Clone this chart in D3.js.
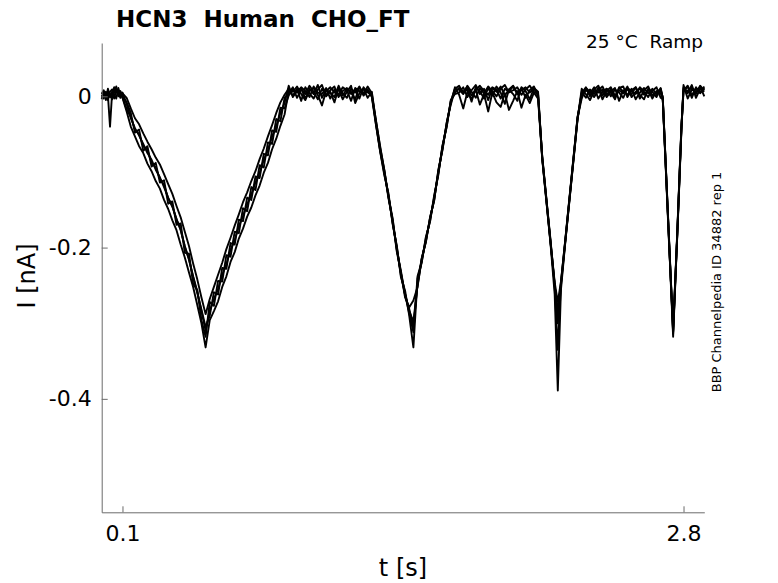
<!DOCTYPE html>
<html>
<head>
<meta charset="utf-8">
<script src="https://cdn.jsdelivr.net/npm/d3@7"></script>
<style>
  body { margin: 0; background: #fff; }
  text { font-family: "DejaVu Sans", sans-serif; fill: #000; white-space: pre; }
</style>
</head>
<body>
<svg id="chart" width="778" height="583"></svg>
<script>
// sample times (s), shared by all sweeps
const tGrid = [
  0, 0.01, 0.02, 0.03, 0.04, 0.05, 0.06, 0.07, 0.08, 0.09, 0.10,
  0.12, 0.14, 0.16, 0.18, 0.20, 0.22, 0.24, 0.26, 0.28, 0.30, 0.32, 0.34, 0.36, 0.38, 0.40, 0.42, 0.44, 0.46, 0.48, 0.50,
  0.52, 0.54, 0.56, 0.58, 0.60, 0.62, 0.64, 0.66, 0.68, 0.70, 0.72, 0.74, 0.76, 0.78, 0.80, 0.82, 0.84, 0.86, 0.88,
  0.90, 0.92, 0.94, 0.96, 0.98, 1.00, 1.02, 1.04, 1.06, 1.08, 1.10, 1.12, 1.14, 1.16, 1.18, 1.20, 1.22, 1.24, 1.26, 1.28, 1.30,
  1.32, 1.34, 1.36, 1.38, 1.40, 1.42, 1.44, 1.46, 1.48, 1.50,
  1.52, 1.54, 1.56, 1.58, 1.60, 1.62, 1.64, 1.66, 1.68, 1.70,
  1.72, 1.74, 1.76, 1.78, 1.80, 1.82, 1.84, 1.86, 1.88, 1.90, 1.92, 1.94, 1.96, 1.98, 2.00, 2.02, 2.04, 2.06, 2.08, 2.10,
  2.12, 2.14, 2.16, 2.18, 2.195, 2.21, 2.23, 2.25, 2.27, 2.29,
  2.31, 2.33, 2.35, 2.37, 2.39, 2.41, 2.43, 2.45, 2.47, 2.49, 2.51, 2.53, 2.55, 2.57, 2.59, 2.61, 2.63, 2.65, 2.67, 2.69,
  2.70, 2.71, 2.73, 2.75, 2.77, 2.79,
  2.80, 2.82, 2.84, 2.86, 2.88, 2.90
];

// current of each sweep, in pA
const sweep1 = [
  2, -3, 6, 1, -40, 4, 12, 5, 8, 3, 0,
  -8, -22, -48, -44, -72, -66, -93, -88, -114, -111, -142, -139, -170, -168, -207, -208, -248, -256, -296, -318,
  -272, -277, -244, -245, -210, -212, -179, -181, -148, -152, -120, -124, -91, -94, -61, -63, -30, -33, -2,
  4, 12, -2, 9, 3, 14, 6, -4, 10, 2, 8, 13, -1, 7, 11, 3, 9, -3, 12, 5, 2,
  -32, -68, -97, -133, -161, -203, -231, -263, -281, -305,
  -248, -214, -193, -160, -138, -97, -71, -35, -11, 9,
  9, 3, 14, 6, -2, 11, 4, 13, 7, 0, 10, 15, 5, 8, 12, 2, 9, 14, 6, 3,
  -83, -139, -195, -262, -389, -256, -196, -141, -86, -31,
  6, -2, 9, 3, 11, -4, 7, 12, 1, 8, 4, 13, -1, 6, 10, 2, 9, -3, 7, 4,
  -3, -65, -190, -318, -182, -42,
  12, 4, 15, -2, 10, 6
];
const sweep2 = [
  -2, 4, -1, 7, 3, -4, 8, 10, 2, 6, -2,
  -20, -40, -53, -66, -75, -89, -99, -112, -122, -137, -149, -164, -177, -196, -213, -233, -252, -276, -300, -332,
  -296, -284, -271, -252, -238, -219, -206, -188, -175, -159, -147, -131, -118, -101, -88, -70, -56, -39, -24,
  8, 1, 10, -6, 12, 4, -3, 9, 15, 0, 6, -8, 11, 4, -2, 10, 5, 13, 1, 8, -1,
  -38, -73, -104, -128, -169, -197, -239, -257, -290, -332,
  -241, -220, -186, -166, -131, -104, -65, -41, -5, 3,
  5, 12, -1, 8, 15, 3, 10, -5, 11, 6, 13, 1, 9, 14, 4, 11, -2, 8, 13, 0,
  -79, -135, -190, -251, -335, -247, -192, -137, -82, -27,
  1, 8, 4, 12, -3, 6, 10, 0, 9, 5, -2, 11, 7, 3, 12, 6, -1, 10, 3, 8,
  -1, -62, -186, -310, -178, -38,
  8, 14, 1, 11, 5, 13
];
const sweep3 = [
  5, 0, 3, -5, 6, 9, 2, -3, 11, 1, 4,
  -2, -16, -29, -37, -49, -60, -70, -81, -90, -103, -116, -129, -145, -160, -179, -198, -221, -242, -266, -288,
  -268, -252, -236, -220, -202, -187, -171, -156, -140, -127, -112, -99, -83, -69, -53, -38, -22, -8, 2,
  10, 6, 13, 3, -5, 8, 11, 2, -12, 7, 12, 5, 9, -4, 6, 14, -9, 4, 10, -2, 6,
  -33, -66, -98, -135, -163, -205, -233, -266, -279, -270,
  -252, -215, -192, -161, -137, -99, -70, -36, -9, 12,
  2, -16, 6, -4, 9, -11, 3, -20, 5, -8, -14, 4, -18, -6, 7, -15, 2, -9, 5, -3,
  -82, -138, -194, -248, -300, -251, -195, -140, -85, -30,
  10, 3, -5, 7, 5, 9, -1, 6, 11, -6, 8, 2, 10, -4, 5, 11, 4, 7, 12, -2,
  -4, -67, -193, -305, -184, -44,
  15, -3, 9, 6, 13, 0
];
const sweep4 = [
  -4, 6, -2, 4, -1, 2, 5, 13, 0, 7, -1,
  -17, -27, -44, -50, -66, -71, -88, -94, -109, -117, -135, -145, -163, -176, -199, -215, -239, -260, -282, -305,
  -290, -259, -262, -227, -228, -194, -196, -163, -165, -134, -137, -106, -108, -76, -78, -45, -47, -15, -16,
  1, 9, 5, 12, 7, -1, 13, 5, 3, 11, -3, 9, 2, 12, 8, -6, 11, 7, 3, 13, 4,
  -37, -72, -102, -131, -167, -199, -237, -262, -287, -312,
  -238, -219, -188, -165, -133, -102, -66, -40, -6, 5,
  11, 6, 13, 1, 9, 14, 7, 2, 12, 9, -3, 10, 6, 13, 3, 8, 12, 5, 10, 2,
  -80, -136, -192, -246, -272, -245, -193, -138, -83, -28,
  -3, 11, 6, -1, 8, 13, 2, 9, -2, 12, 6, 9, 3, 12, -3, 8, 13, 1, 5, 10,
  -2, -63, -188, -312, -180, -40,
  10, 7, 12, 3, 14, 8
];
const sweep5 = [
  3, 8, -5, 10, 0, 6, -3, 9, 4, -2, 5,
  -10, -29, -42, -52, -63, -75, -84, -97, -107, -120, -134, -146, -162, -177, -198, -216, -238, -258, -284, -310,
  -284, -268, -255, -236, -222, -203, -190, -172, -158, -143, -130, -114, -101, -84, -71, -53, -40, -22, -9,
  14, -1, 7, 11, -3, 10, 3, 15, -2, 9, 5, -1, 14, 1, 10, 6, -4, 12, 4, 9, 0,
  -35, -71, -99, -132, -166, -201, -234, -261, -284, -298,
  -250, -216, -191, -162, -136, -101, -68, -37, -7, 10,
  14, 4, 10, -7, 12, 7, -3, 11, 1, 13, 5, -10, 9, 3, -6, 12, 7, -4, 11, 6,
  -81, -137, -193, -250, -285, -248, -194, -139, -84, -29,
  4, 12, 0, 9, 14, 1, 10, 5, -4, 11, 13, -1, 8, 12, 2, -4, 10, 6, -1, 11,
  -2, -64, -189, -314, -181, -41,
  6, 13, -2, 12, 4, 11
];
const sweeps = [sweep1, sweep2, sweep3, sweep4, sweep5];

const xTicks = [0.1, 2.8];
const yTicks = [0, -0.2, -0.4];

const svg = d3.select("#chart");

// scales (current in nA)
const x = d3.scaleLinear().domain([0, 2.9]).range([101.7, 704.3]);
const y = d3.scaleLinear().domain([-0.55, 0.0705]).range([512.3, 43]);

// traces
const line = d3.line()
  .x((d, i) => x(tGrid[i]))
  .y(d => y(d / 1000));

svg.append("g")
  .selectAll("path")
  .data(sweeps)
  .enter()
  .append("path")
  .attr("d", line)
  .attr("fill", "none")
  .attr("stroke", "#000")
  .attr("stroke-width", 1.9)
  .attr("stroke-linejoin", "round");

// axes, ticks pointing inward
const yAxis = svg.append("g")
  .attr("transform", "translate(101.7,0)")
  .call(d3.axisLeft(y).tickValues(yTicks).tickFormat(d => String(d))
    .tickSizeInner(-6).tickSizeOuter(0).tickPadding(10));

const xAxis = svg.append("g")
  .attr("transform", "translate(0,512.3)")
  .call(d3.axisBottom(x).tickValues(xTicks).tickFormat(d => String(d))
    .tickSizeInner(-6).tickSizeOuter(0).tickPadding(13));

[xAxis, yAxis].forEach(g => {
  g.selectAll("path, line").attr("stroke", "#6b6b6b");
  g.selectAll("text")
    .attr("font-family", "DejaVu Sans")
    .attr("font-size", 22)
    .attr("fill", "#262626");
});

// labels
svg.append("text")
  .attr("x", 403).attr("y", 576)
  .attr("text-anchor", "middle")
  .attr("font-size", 24)
  .attr("fill", "#262626")
  .text("t [s]");

svg.append("text")
  .attr("transform", "translate(35,276) rotate(-90)")
  .attr("text-anchor", "middle")
  .attr("font-size", 24)
  .attr("fill", "#262626")
  .text("I [nA]");

svg.append("text")
  .attr("x", 116).attr("y", 27)
  .attr("font-size", 23)
  .attr("font-weight", "bold")
  .text("HCN3  Human  CHO_FT");

svg.append("text")
  .attr("x", 703).attr("y", 48)
  .attr("text-anchor", "end")
  .attr("font-size", 18.5)
  .text("25 °C  Ramp");

svg.append("text")
  .attr("transform", "translate(721,282) rotate(-90)")
  .attr("text-anchor", "middle")
  .attr("font-size", 13)
  .text("BBP Channelpedia ID 34882 rep 1");
</script>
</body>
</html>
